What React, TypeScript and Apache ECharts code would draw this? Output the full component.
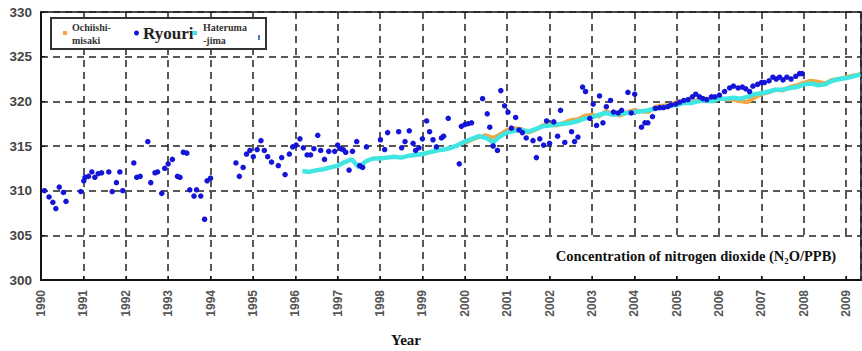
import React, { useEffect, useRef } from "react";
import * as echarts from "echarts";

// Ryouri (irregular sampling)
const ryouriYears = [
  1990.08, 1990.19, 1990.28, 1990.35, 1990.43, 1990.53, 1990.59, 1990.94,
  1991.01, 1991.04, 1991.12, 1991.2, 1991.27, 1991.35, 1991.43, 1991.6, 1991.68, 1991.78, 1991.86, 1991.93,
  1992.19, 1992.26, 1992.34, 1992.52, 1992.59, 1992.69, 1992.75, 1992.85, 1992.92,
  1993.0, 1993.1, 1993.22, 1993.28, 1993.36, 1993.44, 1993.51, 1993.61, 1993.67, 1993.77, 1993.86, 1993.92,
  1994.0, 1994.6, 1994.68, 1994.77, 1994.85, 1994.93,
  1995.01, 1995.1, 1995.19, 1995.27, 1995.35, 1995.44, 1995.6, 1995.68, 1995.76, 1995.86, 1995.94,
  1996.02, 1996.11, 1996.19, 1996.28, 1996.36, 1996.44, 1996.53, 1996.6, 1996.69, 1996.79, 1996.93,
  1997.0, 1997.07, 1997.13, 1997.19, 1997.27, 1997.35, 1997.45, 1997.52, 1997.59, 1997.68,
  1998.01, 1998.11, 1998.18, 1998.44, 1998.51, 1998.59, 1998.69, 1998.78, 1998.84, 1998.92,
  1999.0, 1999.1, 1999.17, 1999.25, 1999.33, 1999.45, 1999.5, 1999.61, 1999.87, 1999.92,
  2000.0, 2000.08, 2000.16, 2000.42, 2000.53, 2000.59, 2000.67, 2000.77, 2000.85, 2000.94,
  2001.02, 2001.1, 2001.2, 2001.28, 2001.36, 2001.45, 2001.61, 2001.69, 2001.77, 2001.86, 2001.93,
  2002.0, 2002.1, 2002.19, 2002.26, 2002.36, 2002.52, 2002.59, 2002.67, 2002.78, 2002.85, 2002.95,
  2003.03, 2003.11, 2003.18, 2003.26, 2003.34, 2003.44, 2003.51, 2003.62, 2003.7, 2003.85, 2003.93,
  2004.01, 2004.17, 2004.25, 2004.32, 2004.43, 2004.5, 2004.6, 2004.69, 2004.79, 2004.87, 2004.98,
  2005.07, 2005.17, 2005.27, 2005.37, 2005.45, 2005.54, 2005.62, 2005.71, 2005.82, 2005.9,
  2006.01, 2006.13, 2006.25, 2006.34, 2006.45, 2006.55, 2006.63, 2006.72, 2006.8, 2006.91,
  2007.0, 2007.07, 2007.18, 2007.27, 2007.35, 2007.43, 2007.51, 2007.6, 2007.7, 2007.81, 2007.9, 2007.96,
];
const ryouriValues = [
  310.0, 309.3, 308.7, 308.0, 310.4, 309.8, 308.8, 309.9,
  311.1, 311.5, 311.6, 312.1, 311.5, 311.9, 312.0, 312.1, 309.9, 310.9, 312.1, 310.0,
  313.1, 311.5, 311.6, 315.5, 310.9, 312.0, 312.1, 309.7, 312.5,
  313.0, 313.5, 311.6, 311.5, 314.3, 314.2, 310.1, 309.4, 310.1, 309.4, 306.8, 311.1,
  311.4, 313.1, 311.6, 312.6, 314.1, 314.5,
  313.8, 314.6, 315.6, 314.5, 313.8, 313.2, 312.8, 313.7, 311.8, 314.1, 314.9,
  315.1, 315.8, 314.8, 314.0, 314.0, 314.7, 316.2, 314.5, 313.5, 314.4, 314.4,
  315.1, 314.7, 314.6, 314.3, 312.3, 314.4, 315.5, 312.8, 312.6, 314.9,
  315.7, 314.6, 316.5, 316.6, 314.8, 315.5, 316.7, 315.3, 314.5, 314.8,
  315.8, 317.8, 316.6, 315.7, 314.9, 315.9, 316.1, 318.1, 313.0, 317.2,
  317.4, 317.5, 317.6, 320.3, 318.6, 317.1, 315.0, 314.5, 321.2, 319.5,
  318.8, 317.0, 318.2, 316.8, 316.5, 315.9, 315.6, 313.7, 315.8, 315.1, 317.8,
  315.3, 317.7, 316.1, 319.0, 315.4, 316.6, 315.5, 316.0, 321.6, 321.1, 318.1,
  319.7, 317.3, 320.6, 317.6, 319.4, 320.1, 318.8, 318.7, 319.0, 321.0, 318.7,
  320.8, 317.1, 317.6, 317.6, 318.3, 319.2, 319.3, 319.3, 319.4, 319.6, 319.7,
  319.9, 320.1, 320.2, 320.5, 320.8, 320.5, 320.3, 320.2, 320.5, 320.5,
  320.7, 321.1, 321.5, 321.7, 321.5, 321.6, 321.4, 321.1, 321.7, 321.9,
  322.1, 322.1, 322.3, 322.7, 322.5, 322.7, 322.4, 322.7, 322.5, 322.8, 323.1, 323.1,
];

// Hateruma-jima: bimonthly readings starting 1996 + 1/6
const haterumaStart = 1996.17;
const haterumaStep = 1 / 6;
const haterumaValues = [
  312.2, 312.1, 312.3, 312.4, 312.6, 312.8, 313.2, 313.5,
  312.6, 313.3, 313.6, 313.6, 313.7, 313.8, 313.7, 313.9, 314.0,
  314.1, 314.3, 314.5, 314.6, 314.8, 315.1,
  315.5, 315.8, 316.1, 315.9, 315.4, 316.1,
  316.5, 316.7, 316.8, 316.6, 316.9, 317.2,
  317.3, 317.4, 317.5, 317.6, 317.8, 318.1,
  318.2, 318.5, 318.7, 318.5, 318.6, 318.7,
  318.8, 318.9, 319.0, 319.2, 319.3, 319.5,
  319.6, 319.8, 319.8, 320.0, 320.1, 320.0,
  320.3, 320.3, 320.4, 320.3, 320.5, 320.8,
  320.9, 321.1, 321.3, 321.3, 321.5, 321.6,
  321.9, 322.0, 321.8, 321.9, 322.3, 322.5,
  322.6, 322.8, 323.0,
];

// Ochiishi-misaki: bimonthly readings starting 2000
const ochiishiStart = 2000.0;
const ochiishiStep = 1 / 6;
const ochiishiValues = [
  315.3, 315.7, 316.0, 316.2, 315.9, 316.3,
  316.8, 317.0, 316.9, 316.5, 316.8, 317.3,
  317.4, 317.3, 317.6, 317.9, 318.0, 318.4,
  318.5, 318.3, 318.9, 318.6, 318.4, 318.8,
  319.0, 318.9, 318.8, 319.4, 319.5, 319.6,
  319.9, 320.0, 319.8, 320.2, 320.3, 320.1,
  320.4, 320.2, 320.2, 320.0, 319.9, 320.4,
  320.8, 321.0, 321.3, 321.2, 321.6, 321.8,
  322.1, 322.3, 322.2, 322.0, 322.4, 322.5,
  322.7, 322.9, 323.0,
];

const yTicks = [300, 305, 310, 315, 320, 325, 330];

const ORANGE = "#f4a640";
const CYAN = "#3fe6e2";
const BLUE = "#1515d8";

export default function App() {
  const ref = useRef<HTMLDivElement>(null);

  useEffect(() => {
    if (!ref.current) return;
    const chart = echarts.init(ref.current, undefined, { renderer: "svg" });

    const ryouri = ryouriYears.map((y, i) => [y, ryouriValues[i]]);
    const hateruma = haterumaValues.map((v, i) => [haterumaStart + i * haterumaStep, v]);
    const ochiishi = ochiishiValues.map((v, i) => [ochiishiStart + i * ochiishiStep, v]);

    const serif = "'Liberation Serif', 'Times New Roman', serif";
    const sans = "'Liberation Sans', Arial, sans-serif";

    chart.setOption({
      animation: false,
      backgroundColor: "#ffffff",
      grid: {
        left: 41,
        right: 1,
        top: 12,
        bottom: 71,
        show: true,
        borderColor: "#111",
        borderWidth: 1.5,
      },
      xAxis: {
        type: "value",
        min: 1990,
        max: 2009.35,
        interval: 1,
        axisLine: { show: true, onZero: false, lineStyle: { color: "#111", width: 2 } },
        axisTick: { show: true, inside: true, length: 4, lineStyle: { color: "#111" } },
        splitLine: { show: true, lineStyle: { color: "#222", width: 1.5, type: [7, 5] } },
        axisLabel: {
          rotate: 90,
          margin: 10,
          fontSize: 12,
          fontWeight: "bold",
          fontFamily: sans,
          color: "#555",
          showMaxLabel: false,
          formatter: (v: number) => (Number.isInteger(v) ? String(v) : ""),
        },
      },
      yAxis: {
        type: "value",
        min: yTicks[0],
        max: yTicks[yTicks.length - 1],
        interval: 5,
        axisLine: { show: true, lineStyle: { color: "#111", width: 2 } },
        axisTick: { show: true, inside: true, length: 4, lineStyle: { color: "#111" } },
        splitLine: { show: true, lineStyle: { color: "#222", width: 1.5, type: [7, 5] } },
        axisLabel: {
          margin: 9,
          fontSize: 13.5,
          fontWeight: "bold",
          fontFamily: sans,
          color: "#444",
        },
      },
      series: [
        {
          name: "Ochiishi-misaki",
          type: "line",
          data: ochiishi,
          showSymbol: false,
          symbol: "none",
          lineStyle: { color: ORANGE, width: 4 },
          z: 3,
        },
        {
          name: "Hateruma-jima",
          type: "line",
          data: hateruma,
          showSymbol: false,
          symbol: "none",
          lineStyle: { color: CYAN, width: 4.5 },
          z: 4,
        },
        {
          name: "Ryouri",
          type: "scatter",
          data: ryouri,
          symbol: "circle",
          symbolSize: 5.5,
          itemStyle: { color: BLUE, opacity: 1 },
          z: 5,
        },
      ],
      graphic: [
        // legend box
        {
          type: "rect",
          shape: { x: 51, y: 18, width: 215, height: 31 },
          style: { fill: "#fff", stroke: "#333", lineWidth: 2 },
          z: 100,
        },
        {
          type: "rect",
          shape: { x: 63, y: 31, width: 4, height: 4 },
          style: { fill: ORANGE },
          z: 101,
        },
        {
          type: "text",
          x: 72,
          y: 21,
          style: {
            text: "Ochiishi-\nmisaki",
            font: `bold 10px ${serif}`,
            fill: "#333",
            lineHeight: 13,
          },
          z: 101,
        },
        {
          type: "circle",
          shape: { cx: 136.5, cy: 33, r: 2.5 },
          style: { fill: BLUE },
          z: 101,
        },
        {
          type: "text",
          x: 143,
          y: 33,
          style: {
            text: "Ryouri",
            font: `bold 17px ${serif}`,
            fill: "#222",
            verticalAlign: "middle",
          },
          z: 101,
        },
        {
          type: "rect",
          shape: { x: 193, y: 31, width: 4, height: 4 },
          style: { fill: CYAN },
          z: 101,
        },
        {
          type: "text",
          x: 203,
          y: 21,
          style: {
            text: "Hateruma\n-jima",
            font: `bold 10px ${serif}`,
            fill: "#333",
            lineHeight: 13,
          },
          z: 101,
        },
        {
          type: "rect",
          shape: { x: 258, y: 35, width: 2, height: 5 },
          style: { fill: "#5577cc" },
          z: 101,
        },
        // annotation box
        {
          type: "rect",
          shape: { x: 546, y: 239, width: 304, height: 35 },
          style: { fill: "#fff" },
          z: 100,
        },
        {
          type: "text",
          x: 696,
          y: 256,
          style: {
            text: "Concentration of nitrogen dioxide (N₂O/PPB)",
            font: `bold 14.5px ${serif}`,
            fill: "#111",
            align: "center",
            verticalAlign: "middle",
          },
          z: 101,
        },
        // x axis title
        {
          type: "text",
          x: 406,
          y: 340,
          style: {
            text: "Year",
            font: `bold 15px ${serif}`,
            fill: "#111",
            align: "center",
            verticalAlign: "middle",
          },
          z: 101,
        },
      ],
    });

    return () => chart.dispose();
  }, []);

  return (
    <div
      ref={ref}
      style={{ position: "fixed", left: 0, top: 0, width: 862, height: 351, background: "#fff" }}
    />
  );
}
